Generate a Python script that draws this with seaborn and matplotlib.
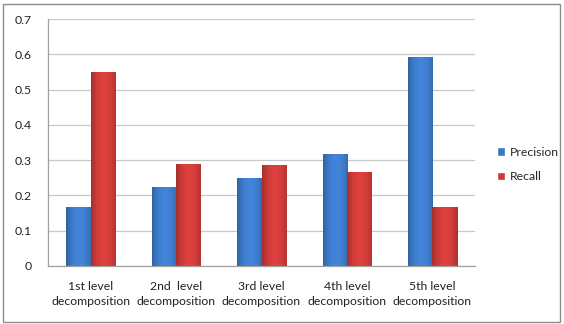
import matplotlib
matplotlib.use("Agg")
import matplotlib.pyplot as plt
import numpy as np
import pandas as pd
import seaborn as sns
from matplotlib.patches import Rectangle

categories = ["1st level\ndecomposition", "2nd  level\ndecomposition",
              "3rd level\ndecomposition", "4th level\ndecomposition",
              "5th level\ndecomposition"]
precision = [0.167, 0.224, 0.250, 0.317, 0.592]
recall = [0.551, 0.289, 0.286, 0.266, 0.167]
series = ["Precision", "Recall"]
colors = {"Precision": "#3c78c6", "Recall": "#c93a37"}

df = pd.DataFrame({
    "level": categories * 2,
    "value": precision + recall,
    "metric": [series[0]] * len(categories) + [series[1]] * len(categories),
})

sns.set_style("white")
plt.rcParams["font.family"] = ["Lato", "DejaVu Sans"]

fig = plt.figure(figsize=(5.64, 3.24), dpi=100)
ax = fig.add_axes([48 / 564, 1 - 266 / 324, 427 / 564, 247 / 324])

sns.barplot(data=df, x="level", y="value", hue="metric", palette=colors,
            width=0.57, ax=ax, saturation=1, legend=True)

# shaded bar faces: light centre fading to darker edges
for patch in ax.patches:
    if patch.get_height() <= 0:
        continue
    fc = np.array(patch.get_facecolor()[:3])
    x0, y0 = patch.get_x(), patch.get_y()
    w, h = patch.get_width(), patch.get_height()
    t = np.linspace(0, 1, 64)
    shade = 0.72 + 0.38 * np.sin(np.pi * (t * 0.9 + 0.02)) ** 0.6
    img = np.clip(fc[None, :] * shade[:, None], 0, 1)[None, :, :]
    im = ax.imshow(img, extent=[x0, x0 + w, y0, y0 + h], aspect="auto",
                   zorder=patch.get_zorder() + 0.1, interpolation="bilinear")
    im.set_clip_path(patch)
    patch.set_edgecolor(fc * 0.7)
    patch.set_linewidth(0.6)

ax.set_xlim(-0.5, 4.5)
ax.set_ylim(0, 0.7)
ax.set_yticks(np.arange(0, 0.71, 0.1))
ax.set_yticklabels(["0", "0.1", "0.2", "0.3", "0.4", "0.5", "0.6", "0.7"])
ax.set_xlabel("")
ax.set_ylabel("")
ax.yaxis.grid(True, color="#c8c8c8", linewidth=0.9)
ax.set_axisbelow(True)

for side in ["top", "right"]:
    ax.spines[side].set_visible(False)
for side in ["left", "bottom"]:
    ax.spines[side].set_color("#a0a0a0")
    ax.spines[side].set_linewidth(0.9)

# category boundary ticks
ax.set_xticks(np.arange(-0.5, 5.0, 1.0), minor=True)
ax.tick_params(axis="x", which="major", length=0, pad=11, labelsize=8.8,
               colors="#222222")
ax.tick_params(axis="x", which="minor", length=4, color="#a0a0a0", width=0.9)
ax.tick_params(axis="y", length=3, color="#a0a0a0", labelsize=8.8,
               labelcolor="#222222", pad=9)
for lbl in ax.get_xticklabels():
    lbl.set_linespacing(1.45)

leg = ax.legend(loc="center left", bbox_to_anchor=(1.025, 0.41), frameon=False,
                fontsize=8.8, handlelength=0.7, handleheight=0.7,
                handletextpad=0.4, labelspacing=1.1)

fig.patches.append(Rectangle((3 / 564, 2 / 324), 557 / 564, 318 / 324,
                             transform=fig.transFigure, fill=False,
                             edgecolor="#8c8c8c", linewidth=1.0))

fig.savefig("out.png", dpi=100, facecolor="white")
